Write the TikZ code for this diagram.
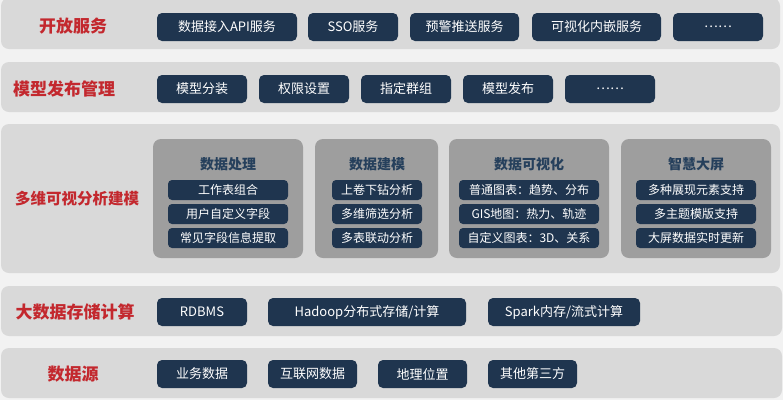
\documentclass[tikz,border=0pt]{standalone}
\usepackage{fontspec}
\setmainfont{Noto Sans CJK SC}
\definecolor{bgcol}{HTML}{F2F2F2}
\definecolor{bandcol}{HTML}{D9D9D9}
\definecolor{panelcol}{HTML}{9E9E9E}
\definecolor{navy}{HTML}{1F354F}
\definecolor{titlecol}{HTML}{26405C}
\definecolor{redcol}{HTML}{C3282E}
\tikzset{
  band/.style={fill=bandcol, rounded corners=8pt},
  lbl/.style={text=redcol, font=\fontsize{17}{17}\selectfont\bfseries},
  tag/.style={fill=navy, rounded corners=5pt, text=white, minimum height=28pt, inner sep=0pt, font=\fontsize{13}{13}\selectfont},
  panel/.style={fill=panelcol, rounded corners=8pt, minimum height=119pt, inner sep=0pt},
  ptitle/.style={text=titlecol, font=\fontsize{14}{14}\selectfont\bfseries},
  cell/.style={fill=navy, rounded corners=4pt, text=white, minimum height=20pt, inner sep=0pt, font=\fontsize{12}{12}\selectfont}
}
\begin{document}
\begin{tikzpicture}[x=1pt, y=-1pt]
            \useasboundingbox[fill=bgcol] (0,0) rectangle (783,400);

            \fill[band] (1,-2) rectangle (780,49);
            \fill[band] (1,62) rectangle (780,112);
            \fill[band] (1,124) rectangle (780,273);
            \fill[band] (1,286) rectangle (782,336);
            \fill[band] (1,348) rectangle (782,398);

            \node[lbl] (kf) at (73,26) {开放服务};
            \node[tag, minimum width=140pt] (kf1) at (227,27) {数据接入API服务};
            \node[tag, minimum width=90pt] (kf2) at (353,27) {SSO服务};
            \node[tag, minimum width=109pt] (kf3) at (464.5,27) {预警推送服务};
            \node[tag, minimum width=129pt] (kf4) at (596.5,27) {可视化内嵌服务};
            \node[tag, minimum width=90pt] (kf5) at (718,27) {……};

            \node[lbl] (mx) at (64,89) {模型发布管理};
            \node[tag, minimum width=90pt] (mx1) at (202,89) {模型分装};
            \node[tag, minimum width=90pt] (mx2) at (304,89) {权限设置};
            \node[tag, minimum width=90pt] (mx3) at (406,89) {指定群组};
            \node[tag, minimum width=90pt] (mx4) at (508,89) {模型发布};
            \node[tag, minimum width=90pt] (mx5) at (610,89) {……};

            \node[lbl, font=\fontsize{15.5}{15.5}\selectfont\bfseries] (dw) at (77,199) {多维可视分析建模};
            \node[panel, minimum width=150pt] (p1) at (228,198.5) {};
            \node[panel, minimum width=123pt] (p2) at (376.5,198.5) {};
            \node[panel, minimum width=160pt] (p3) at (529,198.5) {};
            \node[panel, minimum width=150pt] (p4) at (696,198.5) {};

            \node[ptitle] (t1) at (228,164) {数据处理};
            \node[cell, minimum width=120pt] (c11) at (228,190) {工作表组合};
            \node[cell, minimum width=120pt] (c12) at (228,214) {用户自定义字段};
            \node[cell, minimum width=120pt] (c13) at (228,238) {常见字段信息提取};

            \node[ptitle] (t2) at (377,164) {数据建模};
            \node[cell, minimum width=90pt] (c21) at (377,190) {上卷下钻分析};
            \node[cell, minimum width=90pt] (c22) at (377,214) {多维筛选分析};
            \node[cell, minimum width=90pt] (c23) at (377,238) {多表联动分析};

            \node[ptitle] (t3) at (529,164) {数据可视化};
            \node[cell, minimum width=140pt] (c31) at (529,190) {普通图表：趋势、分布};
            \node[cell, minimum width=140pt] (c32) at (529,214) {GIS地图：热力、轨迹};
            \node[cell, minimum width=140pt] (c33) at (529,238) {自定义图表：3D、关系};

            \node[ptitle] (t4) at (696,164) {智慧大屏};
            \node[cell, minimum width=120pt] (c41) at (696,190) {多种展现元素支持};
            \node[cell, minimum width=120pt] (c42) at (696,214) {多主题模版支持};
            \node[cell, minimum width=120pt] (c43) at (696,238) {大屏数据实时更新};

            \node[lbl] (dsj) at (75,312) {大数据存储计算};
            \node[tag, minimum width=90pt] (dsj1) at (202,312) {RDBMS};
            \node[tag, minimum width=198pt] (dsj2) at (367,312) {Hadoop分布式存储/计算};
            \node[tag, minimum width=152pt] (dsj3) at (564,312) {Spark内存/流式计算};

            \node[lbl] (sjy) at (73,374) {数据源};
            \node[tag, minimum width=90pt] (sjy1) at (202,374) {业务数据};
            \node[tag, minimum width=89pt] (sjy2) at (312.5,374) {互联网数据};
            \node[tag, minimum width=89pt] (sjy3) at (422.5,374) {地理位置};
            \node[tag, minimum width=89pt] (sjy4) at (532.5,374) {其他第三方};
        \end{tikzpicture}
\end{document}
